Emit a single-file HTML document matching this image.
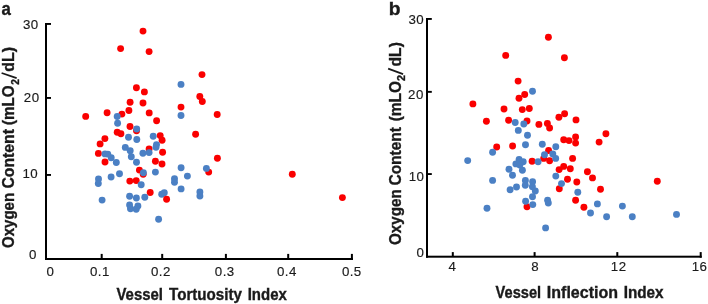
<!DOCTYPE html>
<html><head><meta charset="utf-8"><style>
html,body{margin:0;padding:0;background:#fff;}
body{width:708px;height:304px;overflow:hidden;}
svg{display:block;font-family:"Liberation Sans",sans-serif;fill:#111;}
svg text{fill:#1a1a1a;}
svg{will-change:transform;}
.t{stroke:#1a1a1a;stroke-width:0.35px;}
.n{letter-spacing:0.45px;stroke:#1a1a1a;stroke-width:0.15px;}
</style></head><body>
<svg width="708" height="304" viewBox="0 0 708 304">
<text transform="translate(1.5,14.85) scale(0.93,1)" font-size="18.1" font-weight="bold" class="t">a</text>
<text transform="translate(388.7,14.85) scale(1.06,1)" font-size="18.2" font-weight="bold" class="t">b</text>
<g fill="#000">
<rect x="45" y="23" width="2" height="237"/>
<rect x="45" y="23.0" width="6" height="1.9"/>
<rect x="45" y="97.0" width="6" height="1.9"/>
<rect x="45" y="174.0" width="6" height="1.9"/>
<rect x="45" y="258" width="308" height="2"/>
<rect x="100.7" y="253.9" width="2" height="4.6"/>
<rect x="161.2" y="253.9" width="2" height="4.6"/>
<rect x="224.9" y="253.9" width="2" height="4.6"/>
<rect x="287.2" y="253.9" width="2" height="4.6"/>
<rect x="350.9" y="253.9" width="2" height="6.1"/>
<rect x="426" y="18" width="2" height="239.7"/>
<rect x="426" y="18.0" width="5.8" height="1.9"/>
<rect x="426" y="90.9" width="5.8" height="1.9"/>
<rect x="426" y="173.1" width="5.8" height="1.9"/>
<rect x="426" y="255.7" width="275.7" height="2"/>
<rect x="451.8" y="252.1" width="2" height="4"/>
<rect x="533.6" y="252.1" width="2" height="4"/>
<rect x="616.3" y="252.1" width="2" height="4"/>
<rect x="699.7" y="252.1" width="2" height="5.6"/>
</g>
<text x="30.73" y="28.54" font-size="13.3" text-anchor="middle" class="n">30</text>
<text x="31.72" y="102.09" font-size="13.3" text-anchor="middle" class="n">20</text>
<text x="30.36" y="178.45" font-size="13.3" text-anchor="middle" class="n">10</text>
<text x="32.81" y="259.35" font-size="13.3" text-anchor="middle" class="n">0</text>
<text x="50.40" y="276.45" font-size="13.3" text-anchor="middle" class="n">0</text>
<text x="99.95" y="276.45" font-size="13.3" text-anchor="middle" class="n">0.1</text>
<text x="160.86" y="276.45" font-size="13.3" text-anchor="middle" class="n">0.2</text>
<text x="224.72" y="276.45" font-size="13.3" text-anchor="middle" class="n">0.3</text>
<text x="286.86" y="276.45" font-size="13.3" text-anchor="middle" class="n">0.4</text>
<text x="351.81" y="276.45" font-size="13.3" text-anchor="middle" class="n">0.5</text>
<text x="416.27" y="23.91" font-size="13.3" text-anchor="middle" class="n">30</text>
<text x="415.91" y="98.63" font-size="13.3" text-anchor="middle" class="n">20</text>
<text x="416.54" y="180.63" font-size="13.3" text-anchor="middle" class="n">10</text>
<text x="420.40" y="257.45" font-size="13.3" text-anchor="middle" class="n">0</text>
<text x="452.40" y="271.08" font-size="13.3" text-anchor="middle" class="n">4</text>
<text x="535.18" y="271.08" font-size="13.3" text-anchor="middle" class="n">8</text>
<text x="618.72" y="271.08" font-size="13.3" text-anchor="middle" class="n">12</text>
<text x="699.54" y="271.08" font-size="13.3" text-anchor="middle" class="n">16</text>
<text x="116.50" y="299.9" font-size="15.6" font-weight="bold" class="t" textLength="46.44" lengthAdjust="spacingAndGlyphs">Vessel</text>
<text x="169.03" y="299.9" font-size="15.6" font-weight="bold" class="t" textLength="72.95" lengthAdjust="spacingAndGlyphs">Tortuosity</text>
<text x="247.70" y="299.9" font-size="15.6" font-weight="bold" class="t" textLength="39.11" lengthAdjust="spacingAndGlyphs">Index</text>
<text x="495.60" y="298.0" font-size="15.6" font-weight="bold" class="t" textLength="45.51" lengthAdjust="spacingAndGlyphs">Vessel</text>
<text x="546.83" y="298.0" font-size="15.6" font-weight="bold" class="t" textLength="71.16" lengthAdjust="spacingAndGlyphs">Inflection</text>
<text x="623.68" y="298.0" font-size="15.6" font-weight="bold" class="t" textLength="39.93" lengthAdjust="spacingAndGlyphs">Index</text>
<g transform="translate(14.3,247.4) rotate(-90)"><text x="-0.62" y="0" font-size="15.6" font-weight="bold" class="t" textLength="55.15" lengthAdjust="spacingAndGlyphs">Oxygen</text><text x="58.85" y="0" font-size="15.6" font-weight="bold" class="t" textLength="59.54" lengthAdjust="spacingAndGlyphs">Content</text><text x="122.34" y="0" font-size="15.6" font-weight="bold" class="t" textLength="39.59" lengthAdjust="spacingAndGlyphs">(mLO</text><text x="162.55" y="4.4" font-size="10.0" font-weight="bold" class="t" textLength="5.66" lengthAdjust="spacingAndGlyphs">2</text><text x="175.75" y="0" font-size="15.6" font-weight="bold" class="t" textLength="24.75" lengthAdjust="spacingAndGlyphs">dL)</text></g>
<g transform="translate(400.9,244.4) rotate(-90)"><text x="-0.62" y="0" font-size="15.6" font-weight="bold" class="t" textLength="55.66" lengthAdjust="spacingAndGlyphs">Oxygen</text><text x="58.86" y="0" font-size="15.6" font-weight="bold" class="t" textLength="58.52" lengthAdjust="spacingAndGlyphs">Content</text><text x="123.13" y="0" font-size="15.6" font-weight="bold" class="t" textLength="40.32" lengthAdjust="spacingAndGlyphs">(mLO</text><text x="163.53" y="4.4" font-size="10.0" font-weight="bold" class="t" textLength="6.01" lengthAdjust="spacingAndGlyphs">2</text><text x="177.96" y="0" font-size="15.6" font-weight="bold" class="t" textLength="24.32" lengthAdjust="spacingAndGlyphs">dL)</text></g>
<line x1="1.62" y1="72.97" x2="16.68" y2="78.13" stroke="#1a1a1a" stroke-width="1.75"/>
<line x1="388.13" y1="68.56" x2="403.07" y2="74.14" stroke="#1a1a1a" stroke-width="1.75"/>
<circle cx="143" cy="31.1" r="3.45" fill="#fa0000"/>
<circle cx="120.6" cy="48.6" r="3.45" fill="#fa0000"/>
<circle cx="149.1" cy="51.6" r="3.45" fill="#fa0000"/>
<circle cx="202" cy="74.6" r="3.45" fill="#fa0000"/>
<circle cx="136.4" cy="87.7" r="3.45" fill="#fa0000"/>
<circle cx="144.4" cy="91.9" r="3.45" fill="#fa0000"/>
<circle cx="199.8" cy="96.5" r="3.45" fill="#fa0000"/>
<circle cx="202.3" cy="101.5" r="3.45" fill="#fa0000"/>
<circle cx="130.1" cy="102.2" r="3.45" fill="#fa0000"/>
<circle cx="143" cy="103" r="3.45" fill="#fa0000"/>
<circle cx="181" cy="107.1" r="3.45" fill="#fa0000"/>
<circle cx="128.9" cy="110.5" r="3.45" fill="#fa0000"/>
<circle cx="107.1" cy="112.8" r="3.45" fill="#fa0000"/>
<circle cx="149.2" cy="112.9" r="3.45" fill="#fa0000"/>
<circle cx="217.2" cy="114.5" r="3.45" fill="#fa0000"/>
<circle cx="121.9" cy="114.1" r="3.45" fill="#fa0000"/>
<circle cx="85.7" cy="116.4" r="3.45" fill="#fa0000"/>
<circle cx="156.6" cy="120.8" r="3.45" fill="#fa0000"/>
<circle cx="130" cy="126.5" r="3.45" fill="#fa0000"/>
<circle cx="136.5" cy="130.7" r="3.45" fill="#fa0000"/>
<circle cx="117.2" cy="132.3" r="3.45" fill="#fa0000"/>
<circle cx="120.9" cy="133.7" r="3.45" fill="#fa0000"/>
<circle cx="195.6" cy="134.2" r="3.45" fill="#fa0000"/>
<circle cx="160.2" cy="135.6" r="3.45" fill="#fa0000"/>
<circle cx="104.9" cy="138.6" r="3.45" fill="#fa0000"/>
<circle cx="162.1" cy="140.2" r="3.45" fill="#fa0000"/>
<circle cx="100.1" cy="143.9" r="3.45" fill="#fa0000"/>
<circle cx="149.1" cy="148.9" r="3.45" fill="#fa0000"/>
<circle cx="162.6" cy="152.3" r="3.45" fill="#fa0000"/>
<circle cx="98.4" cy="153.4" r="3.45" fill="#fa0000"/>
<circle cx="217.4" cy="158.2" r="3.45" fill="#fa0000"/>
<circle cx="155.4" cy="161.2" r="3.45" fill="#fa0000"/>
<circle cx="105" cy="162" r="3.45" fill="#fa0000"/>
<circle cx="162" cy="164" r="3.45" fill="#fa0000"/>
<circle cx="139.4" cy="170.1" r="3.45" fill="#fa0000"/>
<circle cx="143.2" cy="174.2" r="3.45" fill="#fa0000"/>
<circle cx="208.7" cy="172.1" r="3.45" fill="#fa0000"/>
<circle cx="136.2" cy="180.6" r="3.45" fill="#fa0000"/>
<circle cx="129.8" cy="181.1" r="3.45" fill="#fa0000"/>
<circle cx="150.2" cy="192.5" r="3.45" fill="#fa0000"/>
<circle cx="292.3" cy="174.2" r="3.45" fill="#fa0000"/>
<circle cx="342.4" cy="197.6" r="3.45" fill="#fa0000"/>
<circle cx="181" cy="84.4" r="3.45" fill="#4b80c4"/>
<circle cx="181" cy="115.5" r="3.45" fill="#4b80c4"/>
<circle cx="117.2" cy="116.5" r="3.45" fill="#4b80c4"/>
<circle cx="117.6" cy="123.3" r="3.45" fill="#4b80c4"/>
<circle cx="136.7" cy="129.0" r="3.45" fill="#4b80c4"/>
<circle cx="128.5" cy="137.2" r="3.45" fill="#4b80c4"/>
<circle cx="153.2" cy="136.3" r="3.45" fill="#4b80c4"/>
<circle cx="136.8" cy="139.5" r="3.45" fill="#4b80c4"/>
<circle cx="156.5" cy="144.6" r="3.45" fill="#4b80c4"/>
<circle cx="156.0" cy="147.3" r="3.45" fill="#4b80c4"/>
<circle cx="125.3" cy="147.4" r="3.45" fill="#4b80c4"/>
<circle cx="130.2" cy="150.7" r="3.45" fill="#4b80c4"/>
<circle cx="142.9" cy="153.3" r="3.45" fill="#4b80c4"/>
<circle cx="149.1" cy="152.6" r="3.45" fill="#4b80c4"/>
<circle cx="105" cy="153.9" r="3.45" fill="#4b80c4"/>
<circle cx="107.8" cy="154.1" r="3.45" fill="#4b80c4"/>
<circle cx="111.2" cy="157.7" r="3.45" fill="#4b80c4"/>
<circle cx="131.3" cy="156.8" r="3.45" fill="#4b80c4"/>
<circle cx="116.3" cy="162.5" r="3.45" fill="#4b80c4"/>
<circle cx="136.5" cy="162.2" r="3.45" fill="#4b80c4"/>
<circle cx="181.1" cy="167.7" r="3.45" fill="#4b80c4"/>
<circle cx="206.4" cy="168.4" r="3.45" fill="#4b80c4"/>
<circle cx="155.4" cy="172.1" r="3.45" fill="#4b80c4"/>
<circle cx="143.4" cy="172.7" r="3.45" fill="#4b80c4"/>
<circle cx="119.5" cy="173.8" r="3.45" fill="#4b80c4"/>
<circle cx="111.1" cy="177" r="3.45" fill="#4b80c4"/>
<circle cx="98.5" cy="178.9" r="3.45" fill="#4b80c4"/>
<circle cx="98.3" cy="183.5" r="3.45" fill="#4b80c4"/>
<circle cx="174.5" cy="178.8" r="3.45" fill="#4b80c4"/>
<circle cx="174.5" cy="182.3" r="3.45" fill="#4b80c4"/>
<circle cx="187.4" cy="176.1" r="3.45" fill="#4b80c4"/>
<circle cx="141.2" cy="184.8" r="3.45" fill="#4b80c4"/>
<circle cx="181.1" cy="188.9" r="3.45" fill="#4b80c4"/>
<circle cx="161.7" cy="194.3" r="3.45" fill="#4b80c4"/>
<circle cx="164.3" cy="192.7" r="3.45" fill="#4b80c4"/>
<circle cx="199.9" cy="191.9" r="3.45" fill="#4b80c4"/>
<circle cx="199.9" cy="196" r="3.45" fill="#4b80c4"/>
<circle cx="102.1" cy="200.1" r="3.45" fill="#4b80c4"/>
<circle cx="129.6" cy="196.3" r="3.45" fill="#4b80c4"/>
<circle cx="136.4" cy="198" r="3.45" fill="#4b80c4"/>
<circle cx="144.8" cy="197.3" r="3.45" fill="#4b80c4"/>
<circle cx="129.6" cy="205" r="3.45" fill="#4b80c4"/>
<circle cx="130.5" cy="208.8" r="3.45" fill="#4b80c4"/>
<circle cx="137.9" cy="205.9" r="3.45" fill="#4b80c4"/>
<circle cx="136.2" cy="209.2" r="3.45" fill="#4b80c4"/>
<circle cx="158.6" cy="219.2" r="3.45" fill="#4b80c4"/>
<circle cx="166.6" cy="199.2" r="3.45" fill="#fa0000"/>
<circle cx="548.4" cy="37.3" r="3.45" fill="#fa0000"/>
<circle cx="505.7" cy="55.4" r="3.45" fill="#fa0000"/>
<circle cx="564.4" cy="57.8" r="3.45" fill="#fa0000"/>
<circle cx="518.1" cy="81.1" r="3.45" fill="#fa0000"/>
<circle cx="524.7" cy="94.5" r="3.45" fill="#fa0000"/>
<circle cx="519" cy="98.2" r="3.45" fill="#fa0000"/>
<circle cx="472.9" cy="103.9" r="3.45" fill="#fa0000"/>
<circle cx="504" cy="109" r="3.45" fill="#fa0000"/>
<circle cx="522.3" cy="109.6" r="3.45" fill="#fa0000"/>
<circle cx="529.3" cy="108.5" r="3.45" fill="#fa0000"/>
<circle cx="558.9" cy="117.3" r="3.45" fill="#fa0000"/>
<circle cx="564.6" cy="113.7" r="3.45" fill="#fa0000"/>
<circle cx="576" cy="119.9" r="3.45" fill="#fa0000"/>
<circle cx="486.4" cy="121.2" r="3.45" fill="#fa0000"/>
<circle cx="508.6" cy="120.3" r="3.45" fill="#fa0000"/>
<circle cx="527" cy="121" r="3.45" fill="#fa0000"/>
<circle cx="538.9" cy="124.4" r="3.45" fill="#fa0000"/>
<circle cx="547.4" cy="123.4" r="3.45" fill="#fa0000"/>
<circle cx="549.6" cy="128" r="3.45" fill="#fa0000"/>
<circle cx="605.9" cy="133.8" r="3.45" fill="#fa0000"/>
<circle cx="599.1" cy="142.1" r="3.45" fill="#fa0000"/>
<circle cx="563.7" cy="139.7" r="3.45" fill="#fa0000"/>
<circle cx="569" cy="140.6" r="3.45" fill="#fa0000"/>
<circle cx="575.6" cy="137" r="3.45" fill="#fa0000"/>
<circle cx="575.6" cy="143.1" r="3.45" fill="#fa0000"/>
<circle cx="496.7" cy="147" r="3.45" fill="#fa0000"/>
<circle cx="512.6" cy="146" r="3.45" fill="#fa0000"/>
<circle cx="548.6" cy="150.5" r="3.45" fill="#fa0000"/>
<circle cx="543.7" cy="158.4" r="3.45" fill="#fa0000"/>
<circle cx="549.6" cy="160.8" r="3.45" fill="#fa0000"/>
<circle cx="532.1" cy="161.3" r="3.45" fill="#fa0000"/>
<circle cx="572.6" cy="158.4" r="3.45" fill="#fa0000"/>
<circle cx="563.7" cy="166.4" r="3.45" fill="#fa0000"/>
<circle cx="559.1" cy="169.6" r="3.45" fill="#fa0000"/>
<circle cx="570.3" cy="168.8" r="3.45" fill="#fa0000"/>
<circle cx="587.4" cy="171.7" r="3.45" fill="#fa0000"/>
<circle cx="592.5" cy="177.9" r="3.45" fill="#fa0000"/>
<circle cx="567.5" cy="179.3" r="3.45" fill="#fa0000"/>
<circle cx="576.8" cy="182" r="3.45" fill="#fa0000"/>
<circle cx="559.3" cy="188.8" r="3.45" fill="#fa0000"/>
<circle cx="600.5" cy="189.2" r="3.45" fill="#fa0000"/>
<circle cx="575.6" cy="200.3" r="3.45" fill="#fa0000"/>
<circle cx="583.9" cy="207.3" r="3.45" fill="#fa0000"/>
<circle cx="527" cy="206.8" r="3.45" fill="#fa0000"/>
<circle cx="657.3" cy="181.3" r="3.45" fill="#fa0000"/>
<circle cx="532.5" cy="91.3" r="3.45" fill="#4b80c4"/>
<circle cx="515.2" cy="122.5" r="3.45" fill="#4b80c4"/>
<circle cx="523.8" cy="124" r="3.45" fill="#4b80c4"/>
<circle cx="518.3" cy="130.4" r="3.45" fill="#4b80c4"/>
<circle cx="527.5" cy="135.3" r="3.45" fill="#4b80c4"/>
<circle cx="525.5" cy="144.7" r="3.45" fill="#4b80c4"/>
<circle cx="542.3" cy="144.2" r="3.45" fill="#4b80c4"/>
<circle cx="555.8" cy="146.8" r="3.45" fill="#4b80c4"/>
<circle cx="492.6" cy="152.2" r="3.45" fill="#4b80c4"/>
<circle cx="544.5" cy="154.8" r="3.45" fill="#4b80c4"/>
<circle cx="552.8" cy="154" r="3.45" fill="#4b80c4"/>
<circle cx="555.7" cy="158.4" r="3.45" fill="#4b80c4"/>
<circle cx="538.1" cy="161.8" r="3.45" fill="#4b80c4"/>
<circle cx="467.7" cy="160.6" r="3.45" fill="#4b80c4"/>
<circle cx="519.1" cy="159.4" r="3.45" fill="#4b80c4"/>
<circle cx="523.2" cy="161.8" r="3.45" fill="#4b80c4"/>
<circle cx="515.9" cy="163.9" r="3.45" fill="#4b80c4"/>
<circle cx="519.8" cy="165.1" r="3.45" fill="#4b80c4"/>
<circle cx="522.4" cy="170.3" r="3.45" fill="#4b80c4"/>
<circle cx="509" cy="169.2" r="3.45" fill="#4b80c4"/>
<circle cx="512.5" cy="175.3" r="3.45" fill="#4b80c4"/>
<circle cx="555.8" cy="176.1" r="3.45" fill="#4b80c4"/>
<circle cx="561.5" cy="183.6" r="3.45" fill="#4b80c4"/>
<circle cx="492.6" cy="180.4" r="3.45" fill="#4b80c4"/>
<circle cx="525.4" cy="180.4" r="3.45" fill="#4b80c4"/>
<circle cx="532.6" cy="181.7" r="3.45" fill="#4b80c4"/>
<circle cx="525.3" cy="185.2" r="3.45" fill="#4b80c4"/>
<circle cx="532.4" cy="186.7" r="3.45" fill="#4b80c4"/>
<circle cx="516.5" cy="187" r="3.45" fill="#4b80c4"/>
<circle cx="510.1" cy="189.7" r="3.45" fill="#4b80c4"/>
<circle cx="535.3" cy="191" r="3.45" fill="#4b80c4"/>
<circle cx="532.5" cy="196.7" r="3.45" fill="#4b80c4"/>
<circle cx="525.6" cy="201.3" r="3.45" fill="#4b80c4"/>
<circle cx="532.8" cy="204.6" r="3.45" fill="#4b80c4"/>
<circle cx="547.6" cy="200.2" r="3.45" fill="#4b80c4"/>
<circle cx="548.3" cy="203" r="3.45" fill="#4b80c4"/>
<circle cx="577.8" cy="192.3" r="3.45" fill="#4b80c4"/>
<circle cx="597.4" cy="203.9" r="3.45" fill="#4b80c4"/>
<circle cx="590.5" cy="213" r="3.45" fill="#4b80c4"/>
<circle cx="606.6" cy="216.8" r="3.45" fill="#4b80c4"/>
<circle cx="622.4" cy="206.1" r="3.45" fill="#4b80c4"/>
<circle cx="632.3" cy="216.8" r="3.45" fill="#4b80c4"/>
<circle cx="676.5" cy="214.4" r="3.45" fill="#4b80c4"/>
<circle cx="545.6" cy="227.9" r="3.45" fill="#4b80c4"/>
<circle cx="487" cy="208.2" r="3.45" fill="#4b80c4"/>
</svg>
</body></html>
